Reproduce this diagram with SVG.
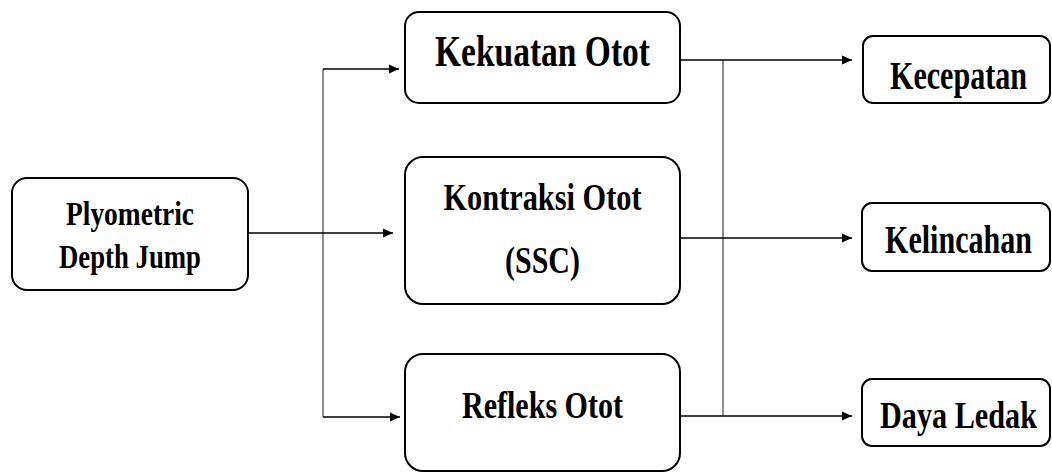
<svg xmlns="http://www.w3.org/2000/svg" width="1052" height="473" viewBox="0 0 1052 473">
<style>
.box{fill:#fff;stroke:#000;stroke-width:2}
.t{font-family:"Liberation Serif","Times New Roman",Tinos,"DejaVu Serif",serif;font-weight:bold;fill:#000;text-anchor:middle}
.ln{fill:none;stroke:#000;stroke-width:1.5}
.vl{fill:none;stroke:#666;stroke-width:1.5}
</style>
<defs>
<marker id="ah" markerUnits="userSpaceOnUse" markerWidth="12" markerHeight="12" viewBox="0 0 12 12" refX="11" refY="6" orient="auto">
<path d="M1,1.5 L11,6 L1,10.5 Z" fill="#000"/>
</marker>
</defs>
<g id="connectors">
<path class="vl" d="M323,69 V417"/>
<path class="vl" d="M723,60 V416"/>
<path class="ln" d="M248,233 H393" marker-end="url(#ah)"/>
<path class="ln" d="M323,69 H399" marker-end="url(#ah)"/>
<path class="ln" d="M323,417 H400" marker-end="url(#ah)"/>
<path class="ln" d="M680,60 H852" marker-end="url(#ah)"/>
<path class="ln" d="M680,238 H852" marker-end="url(#ah)"/>
<path class="ln" d="M680,416 H852" marker-end="url(#ah)"/>
</g>
<g id="plyometric">
<rect class="box" x="12" y="178" width="236" height="112" rx="15"/>
<text class="t" font-size="27" textLength="128" lengthAdjust="spacingAndGlyphs" transform="translate(130,225) scale(1,1.22)">Plyometric</text>
<text class="t" font-size="27" textLength="142" lengthAdjust="spacingAndGlyphs" transform="translate(130,268) scale(1,1.22)">Depth Jump</text>
</g>
<g id="kekuatan">
<rect class="box" x="405" y="12" width="275" height="91" rx="14"/>
<text class="t" font-size="33.5" textLength="215" lengthAdjust="spacingAndGlyphs" transform="translate(542.5,66) scale(1,1.3)">Kekuatan Otot</text>
</g>
<g id="kontraksi">
<rect class="box" x="405" y="157" width="275" height="147" rx="18"/>
<text class="t" font-size="30.3" textLength="198" lengthAdjust="spacingAndGlyphs" transform="translate(542.5,210) scale(1,1.26)">Kontraksi Otot</text>
<text class="t" font-size="30" textLength="75" lengthAdjust="spacingAndGlyphs" transform="translate(542.5,273) scale(1,1.26)">(SSC)</text>
</g>
<g id="refleks">
<rect class="box" x="405" y="354" width="275" height="117" rx="18"/>
<text class="t" font-size="30" textLength="161" lengthAdjust="spacingAndGlyphs" transform="translate(542.5,418) scale(1,1.26)">Refleks Otot</text>
</g>
<g id="kecepatan">
<rect class="box" x="863" y="36" width="187" height="67" rx="10"/>
<text class="t" font-size="30" textLength="137" lengthAdjust="spacingAndGlyphs" transform="translate(958.5,89) scale(1,1.3)">Kecepatan</text>
</g>
<g id="kelincahan">
<rect class="box" x="862" y="203" width="188" height="68" rx="10"/>
<text class="t" font-size="30" textLength="147" lengthAdjust="spacingAndGlyphs" transform="translate(958.5,253) scale(1,1.3)">Kelincahan</text>
</g>
<g id="dayaledak">
<rect class="box" x="862" y="379" width="188" height="67" rx="10"/>
<text class="t" font-size="30" textLength="157" lengthAdjust="spacingAndGlyphs" transform="translate(958.5,428) scale(1,1.26)">Daya Ledak</text>
</g>
</svg>
